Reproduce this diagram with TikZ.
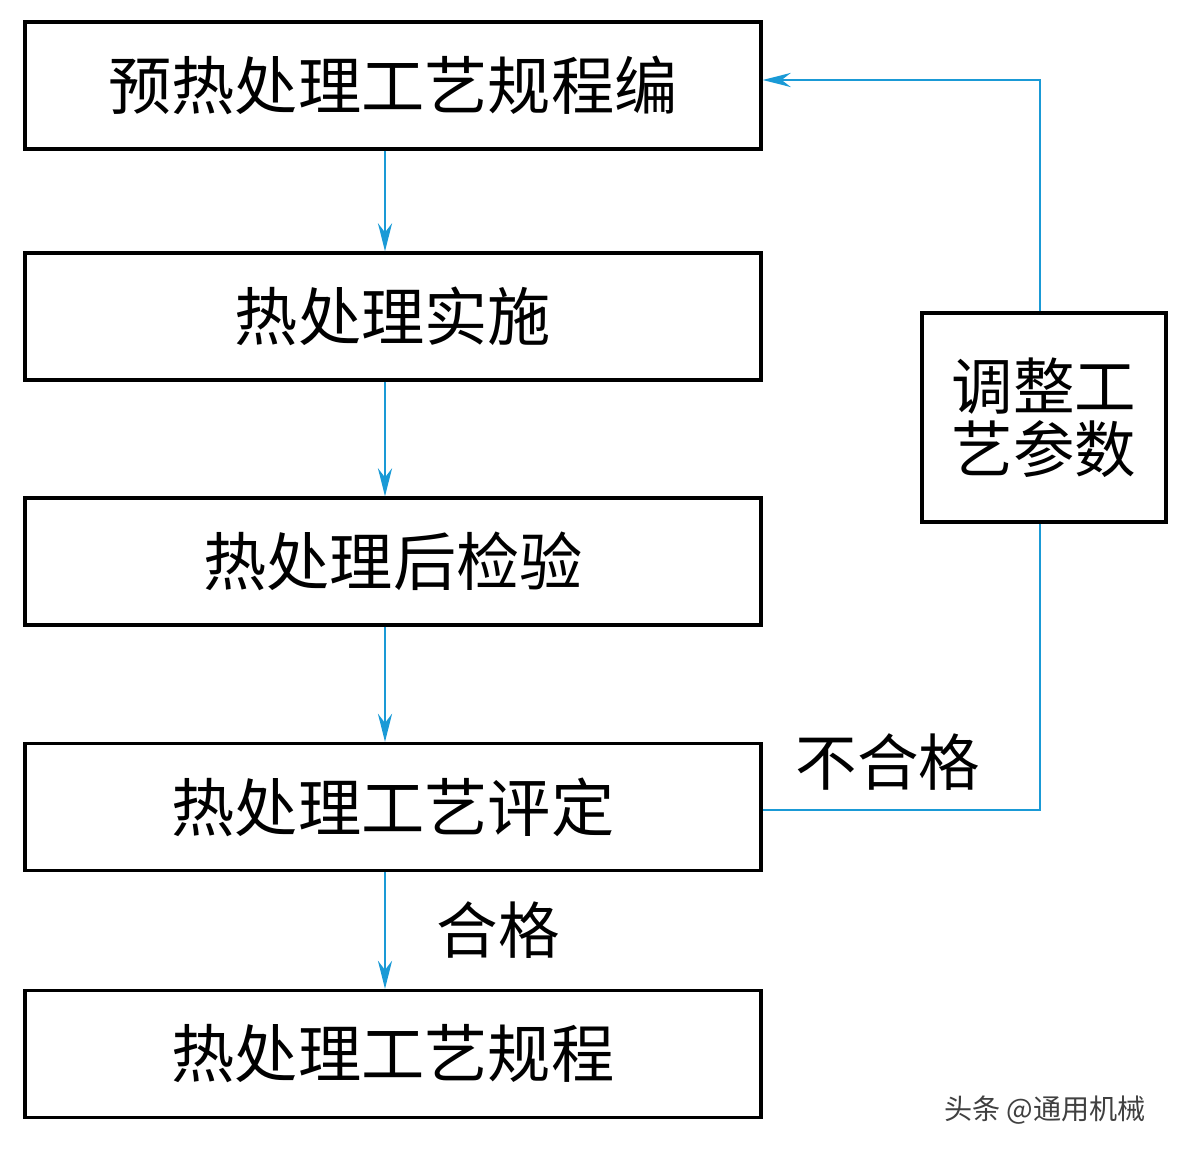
\documentclass[tikz,border=0pt]{standalone}
\usepackage{fontspec}
\setmainfont{Noto Sans CJK SC}
\usetikzlibrary{arrows.meta}
\begin{document}
\begin{tikzpicture}[x=0.02cm,y=-0.02cm,
 box/.style={draw,line width=3.2pt*0.567,minimum width=736*0.02cm,minimum height=127*0.02cm,font=\fontsize{36}{42}\selectfont},
 ln/.style={draw={rgb,255:red,26;green,154;blue,214},line width=1.5pt},
 ar/.style={ln,-{Stealth[length=16pt,width=8pt]}},
 lab/.style={font=\fontsize{35}{40}\selectfont}]
\useasboundingbox (0,0) rectangle (1182,1152);
\node[box] (b1) at (393,85.5) {预热处理工艺规程编};
\node[box] (b2) at (393,316.5) {热处理实施};
\node[box] (b3) at (393,561.5) {热处理后检验};
\node[box] (b4) at (393,807) {热处理工艺评定};
\node[box] (b5) at (393,1054) {热处理工艺规程};
\node[box,minimum width=244*0.02cm,minimum height=209*0.02cm,align=center,font=\fontsize{35}{36}\selectfont] (r) at (1044,417.5) {调整工\\艺参数};
\draw[ar] (b1.south -| 385,0) -- (b2.north -| 385,0);
\draw[ar] (b2.south -| 385,0) -- (b3.north -| 385,0);
\draw[ar] (b3.south -| 385,0) -- (b4.north -| 385,0);
\draw[ar] (b4.south -| 385,0) -- (b5.north -| 385,0);
\draw[ln] (b4.east |- 0,810) -| (r.south -| 1040,0);
\draw[ar] (r.north -| 1040,0) |- (b1.east |- 0,80);
\node[lab] (n1) at (888,762) {不合格};
\node[lab] (n2) at (498,930) {合格};
\node[font=\fontsize{16}{18}\selectfont,text=black!75] (w) at (1045,1110) {头条 @通用机械};
\end{tikzpicture}
\end{document}
